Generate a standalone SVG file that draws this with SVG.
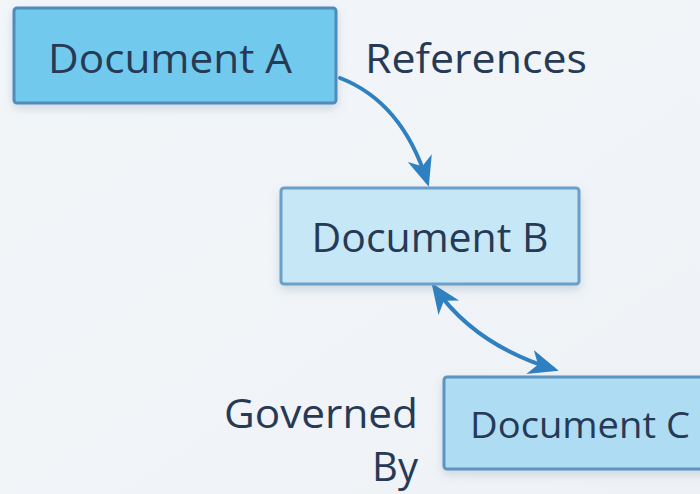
<svg xmlns="http://www.w3.org/2000/svg" width="700" height="494" viewBox="0 0 700 494">
  <defs>
    <linearGradient id="bg" x1="0" y1="0" x2="1" y2="1">
      <stop offset="0" stop-color="#f3f6f9"/>
      <stop offset="1" stop-color="#eef2f6"/>
    </linearGradient>
    <filter id="shadow" x="-10%" y="-20%" width="120%" height="150%">
      <feDropShadow dx="0" dy="4" stdDeviation="5" flood-color="#5a7a95" flood-opacity="0.25"/>
    </filter>
    <marker id="head" viewBox="0 0 10 10" refX="8" refY="5" markerWidth="30" markerHeight="30" markerUnits="userSpaceOnUse" orient="auto-start-reverse">
      <path d="M0,0.8 L10,5 L0,9.2 L2.8,5 Z" fill="#2f80c0"/>
    </marker>
    <style>
      .lbl { font-family: "Open Sans", "Liberation Sans", sans-serif; fill: #263a55; }
      .node-text { font-size: 40px; text-anchor: middle; }
      .edge { fill: none; stroke: #2f80c0; stroke-width: 4; stroke-linecap: round; }
    </style>
  </defs>

  <rect width="700" height="494" fill="url(#bg)"/>

  <g id="edges">
    <path class="edge" d="M340,78 Q402,102 427,181" marker-end="url(#head)"/>
    <path class="edge" d="M435,288 Q475,345 553,369" marker-start="url(#head)" marker-end="url(#head)"/>
  </g>

  <g id="node-a">
    <rect x="14" y="8" width="322" height="95" rx="3" fill="#72c9ee" stroke="#4f8cbc" stroke-width="3" filter="url(#shadow)"/>
    <text class="lbl node-text" x="170" y="73" textLength="244" lengthAdjust="spacingAndGlyphs">Document A</text>
  </g>

  <g id="node-b">
    <rect x="281" y="188" width="298" height="96" rx="3" fill="#c6e7f6" stroke="#6a9fc9" stroke-width="3" filter="url(#shadow)"/>
    <text class="lbl node-text" x="430" y="252" textLength="237" lengthAdjust="spacingAndGlyphs">Document B</text>
  </g>

  <g id="node-c">
    <rect x="444" y="377" width="270" height="92" rx="3" fill="#aedcf3" stroke="#5b94c2" stroke-width="3" filter="url(#shadow)"/>
    <text class="lbl" x="470" y="438" font-size="36" textLength="220" lengthAdjust="spacingAndGlyphs">Document C</text>
  </g>

  <g id="labels">
    <text class="lbl" x="365" y="73" font-size="40" textLength="222" lengthAdjust="spacingAndGlyphs">References</text>
    <text class="lbl" x="418" y="428" font-size="40" text-anchor="end" textLength="194" lengthAdjust="spacingAndGlyphs">Governed</text>
    <text class="lbl" x="418" y="481" font-size="40" text-anchor="end">By</text>
  </g>
</svg>
